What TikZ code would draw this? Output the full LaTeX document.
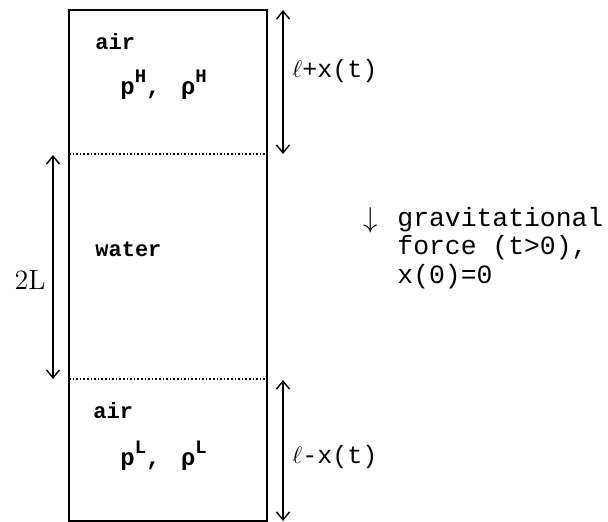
\documentclass[tikz,border=0pt]{standalone}
\usepackage{fontspec}
\setmonofont{Liberation Mono}
\usetikzlibrary{positioning,arrows.meta}
\newcommand{\tubesup}[1]{\raisebox{6pt}{\fontsize{9.5}{10}\selectfont #1}}

\begin{document}
\begin{tikzpicture}[x=0.5pt,y=-0.5pt,
wall/.style={line width=1pt},
iface/.style={densely dotted,line width=0.8pt},
dim/.style={{Straight Barb[length=4pt,width=6.5pt]}-{Straight Barb[length=4pt,width=6.5pt]},line width=0.7pt},
phase/.style={anchor=base west,inner sep=0pt,font=\ttfamily\bfseries\fontsize{11}{13}\selectfont},
state/.style={anchor=base west,inner sep=0pt,font=\ttfamily\bfseries\fontsize{12}{14}\selectfont},
len/.style={anchor=base west,inner sep=0pt,font=\ttfamily\fontsize{12.5}{15}\selectfont},
note/.style={anchor=base west,inner sep=0pt,font=\ttfamily\fontsize{13.2}{14}\selectfont}
]
\useasboundingbox (0,0) rectangle (608,522);
% tube and interfaces
\coordinate (tubeTL) at (69,10);
\coordinate (tubeBR) at (267,521);
\coordinate (ifH) at (69,154);
\coordinate (ifL) at (69,379);
\draw[wall] (tubeTL) rectangle (tubeBR);
\draw[iface] (ifH) -- (ifH -| tubeBR);
\draw[iface] (ifL) -- (ifL -| tubeBR);
% contents
\node[phase] (airH) at (95,50) {air};
\node[state] (stH) at (120,95) {p\tubesup{H},\hspace{3pt} ρ\tubesup{H}};
\node[phase] (water) at (95,257) {water};
\node[phase] (airL) at (93,418) {air};
\node[state] (stL) at (120,465) {p\tubesup{L},\hspace{3pt} ρ\tubesup{L}};
% lengths
\coordinate (dimHt) at (283,10);
\coordinate (dimHb) at (283,154);
\coordinate (dimLt) at (283,380);
\coordinate (dimLb) at (283,521);
\coordinate (dimWt) at (53,155);
\coordinate (dimWb) at (53,379);
\draw[dim] (dimHt) -- (dimHb);
\draw[dim] (dimLt) -- (dimLb);
\draw[dim] (dimWt) -- (dimWb);
\node[len] (lenH) at (292,78) {$\ell$+x(t)};
\node[len] (lenL) at (292,463) {$\ell$-x(t)};
\node[anchor=base east,inner sep=0pt,font=\fontsize{14}{16}\selectfont] (twoL) at (46,290) {2L};
% gravity note
\node[anchor=base,inner sep=0pt,font=\fontsize{14}{14}\selectfont] (down) at (371,228) {$\downarrow$};
\node[note] (g1) at (397,227) {gravitational};
\node[note] (g2) at (397,255) {force (t>0),};
\node[note] (g3) at (397,284) {x(0)=0};
\end{tikzpicture}
\end{document}
